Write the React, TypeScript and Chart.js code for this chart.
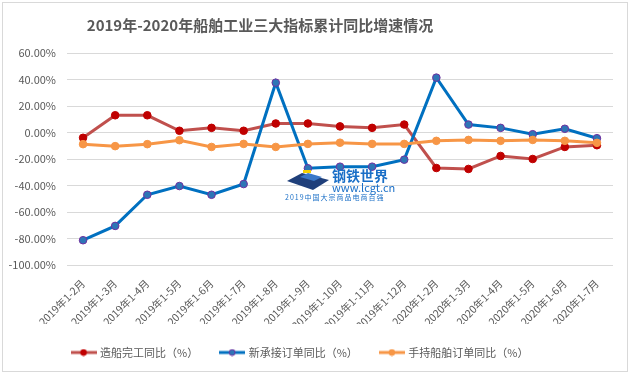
import React, { useEffect, useRef } from 'react';
import { Chart, registerables } from 'chart.js';
Chart.register(...registerables);

const TITLE = '2019年-2020年船舶工业三大指标累计同比增速情况';
const categories = [
  '2019年1-2月', '2019年1-3月', '2019年1-4月', '2019年1-5月', '2019年1-6月',
  '2019年1-7月', '2019年1-8月', '2019年1-9月', '2019年1-10月', '2019年1-11月',
  '2019年1-12月', '2020年1-2月', '2020年1-3月', '2020年1-4月', '2020年1-5月',
  '2020年1-6月', '2020年1-7月',
];
const shipCompleted = [-4, 13, 13, 1.3, 3.5, 1.3, 6.8, 6.8, 4.6, 3.5, 6, -26.8, -27.5, -17.7, -20, -10.9, -9.6];
const newOrders = [-81.3, -70.5, -47, -40.4, -47, -38.9, 37.6, -27, -25.8, -25.8, -20.5, 41.4, 6, 3.5, -1.3, 2.8, -4.3];
const holdingOrders = [-8.8, -10.3, -8.8, -5.8, -10.9, -8.6, -10.9, -8.6, -7.7, -8.6, -8.6, -6.3, -5.6, -6.3, -5.6, -6.3, -7.8];
const seriesNames = ['造船完工同比（%）', '新承接订单同比（%）', '手持船舶订单同比（%）'];
const yMin = -100;
const yMax = 60;
const yStep = 20;
const WATERMARK = ['钢铁世界', 'www.lcgt.cn', '2019中国大宗商品电商百强'];

const FONT = '"Noto Sans CJK SC", "Noto Sans", sans-serif';
const TEXT_COLOR = '#595959';

const styles = [
  { line: '#C0504D', fill: '#C00000', border: '#C00000' },
  { line: '#0070C0', fill: '#2E75B6', border: '#7030A0' },
  { line: '#F79646', fill: '#F79646', border: '#F79646' },
];

function makeIcon(s: { line: string; fill: string; border: string }) {
  const c = document.createElement('canvas');
  c.width = 26;
  c.height = 8;
  const ctx = c.getContext('2d')!;
  ctx.strokeStyle = s.line;
  ctx.lineWidth = 3;
  ctx.beginPath();
  ctx.moveTo(0, 4);
  ctx.lineTo(26, 4);
  ctx.stroke();
  ctx.fillStyle = s.fill;
  ctx.strokeStyle = s.border;
  ctx.lineWidth = 1;
  ctx.beginPath();
  ctx.arc(13, 4, 3, 0, Math.PI * 2);
  ctx.fill();
  ctx.stroke();
  return c;
}

const decorPlugin = {
  id: 'decor',
  afterLayout(chart: any) {
    const lg = chart.legend;
    if (lg) {
      lg.left -= 6;
      lg.right -= 6;
    }
  },
  beforeDraw(chart: any) {
    const ctx = chart.ctx;
    ctx.save();
    ctx.fillStyle = '#FFFFFF';
    ctx.fillRect(0, 0, chart.width, chart.height);
    ctx.strokeStyle = '#D9D9D9';
    ctx.lineWidth = 1;
    ctx.strokeRect(2.5, 2.5, 625, 369);
    ctx.restore();
  },
  afterDatasetsDraw(chart: any) {
    const ctx = chart.ctx;
    ctx.save();
    // small logo shape
    ctx.fillStyle = '#1F3F7A';
    ctx.beginPath();
    ctx.moveTo(287, 181);
    ctx.lineTo(302, 173);
    ctx.lineTo(329, 180);
    ctx.lineTo(313, 190);
    ctx.closePath();
    ctx.fill();
    ctx.fillStyle = '#3A78C8';
    ctx.beginPath();
    ctx.moveTo(300, 177);
    ctx.lineTo(308, 173);
    ctx.lineTo(322, 177);
    ctx.lineTo(314, 181);
    ctx.closePath();
    ctx.fill();
    ctx.fillStyle = '#F5D000';
    ctx.fillRect(303, 170, 8, 3);
    ctx.fillStyle = '#1A6FC7';
    ctx.textBaseline = 'middle';
    ctx.textAlign = 'left';
    ctx.font = `bold 14px ${FONT}`;
    ctx.fillText(WATERMARK[0], 332, 176);
    ctx.font = `11px ${FONT}`;
    ctx.fillText(WATERMARK[1], 332, 188);
    ctx.font = `7px ${FONT}`;
    (ctx as any).letterSpacing = '1px';
    ctx.fillText(WATERMARK[2], 285, 197);
    ctx.restore();
  },
  afterDraw(chart: any) {
    const ctx = chart.ctx;
    ctx.save();
    ctx.fillStyle = TEXT_COLOR;
    ctx.font = `bold 15px ${FONT}`;
    ctx.textAlign = 'center';
    ctx.textBaseline = 'middle';
    ctx.fillText(TITLE, 260, 25);
    ctx.restore();
  },
};

export default function App() {
  const ref = useRef<HTMLCanvasElement>(null);
  useEffect(() => {
    const icons = styles.map(makeIcon);
    const dataSets = [shipCompleted, newOrders, holdingOrders];
    const chart = new Chart(ref.current!, {
      type: 'line',
      data: {
        labels: categories,
        datasets: dataSets.map((d, i) => ({
          label: seriesNames[i],
          data: d,
          borderColor: styles[i].line,
          backgroundColor: styles[i].fill,
          pointBackgroundColor: styles[i].fill,
          pointBorderColor: styles[i].border,
          pointBorderWidth: 1,
          pointRadius: 3.8,
          borderWidth: 3,
          tension: 0,
          order: 2 - i,
        })),
      },
      options: {
        responsive: false,
        animation: false,
        layout: { padding: { left: 0, right: 19, top: 53, bottom: 8 } },
        plugins: {
          title: { display: false },
          tooltip: { enabled: false },
          legend: {
            position: 'bottom',
            labels: {
              usePointStyle: true,
              pointStyleWidth: 22,
              padding: 23,
              color: TEXT_COLOR,
              font: { size: 11, family: FONT },
              generateLabels: () =>
                seriesNames.map((n, i) => ({
                  text: n,
                  pointStyle: icons[i] as any,
                  fillStyle: styles[i].fill,
                  strokeStyle: styles[i].line,
                  lineWidth: 0,
                  hidden: false,
                  datasetIndex: i,
                  fontColor: TEXT_COLOR,
                })),
            },
          },
        },
        scales: {
          x: {
            offset: true,
            grid: { display: false },
            border: { display: false },
            ticks: {
              color: TEXT_COLOR,
              font: { size: 10.5, family: FONT },
              minRotation: 45,
              maxRotation: 45,
              autoSkip: false,
              padding: 4,
            },
            afterFit: (s: any) => {
              s.height = 59;
            },
          },
          y: {
            min: yMin,
            max: yMax,
            grid: { color: '#D9D9D9', drawTicks: false },
            border: { display: false },
            ticks: {
              stepSize: yStep,
              color: TEXT_COLOR,
              font: { size: 11, family: FONT },
              padding: 11,
              callback: (v: any) => Number(v).toFixed(2) + '%',
            },
            afterFit: (s: any) => {
              s.width = 67;
            },
          },
        },
      },
      plugins: [decorPlugin],
    });
    return () => chart.destroy();
  }, []);
  return (
    <div style={{ position: 'fixed', left: 0, top: 0, width: 632, height: 376, background: '#fff' }}>
      <canvas ref={ref} width={632} height={376} />
    </div>
  );
}
